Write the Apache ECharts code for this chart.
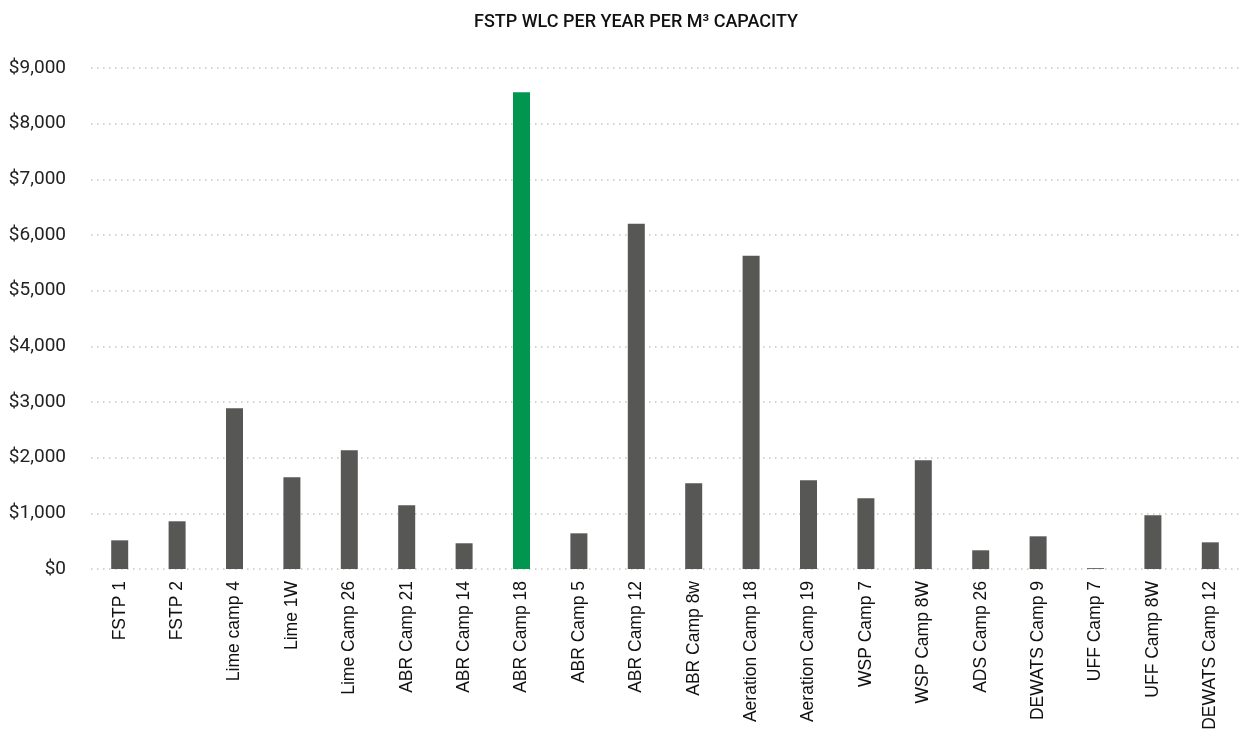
<!DOCTYPE html>
<html>
<head>
<meta charset="utf-8">
<script src="https://cdn.jsdelivr.net/npm/echarts@6/dist/echarts.min.js"></script>
<style>
  html, body { margin: 0; padding: 0; background: #ffffff; }
  #chart { width: 1239px; height: 735px; }
</style>
</head>
<body>
<div id="chart"></div>
<script>
// Whole-life cost per year per m³ of capacity for each treatment plant
const plants = [
  'FSTP 1', 'FSTP 2', 'Lime camp 4', 'Lime 1W', 'Lime Camp 26',
  'ABR Camp 21', 'ABR Camp 14', 'ABR Camp 18', 'ABR Camp 5', 'ABR Camp 12',
  'ABR Camp 8w', 'Aeration Camp 18', 'Aeration Camp 19', 'WSP Camp 7', 'WSP Camp 8W',
  'ADS Camp 26', 'DEWATS Camp 9', 'UFF Camp 7', 'UFF Camp 8W', 'DEWATS Camp 12'
];
const wlcPerM3 = [
  515, 857, 2887, 1647, 2132,
  1144, 462, 8563, 641, 6203,
  1539, 5628, 1593, 1270, 1953,
  336, 587, 15, 964, 479
];
// Plant picked out in green
const highlighted = 'ABR Camp 18';
const yTicks = { min: 0, max: 9000, interval: 1000 };

const barGrey = '#575756';
const barGreen = '#00964f';

const chart = echarts.init(document.getElementById('chart'), null, { renderer: 'canvas' });

chart.setOption({
  animation: false,
  backgroundColor: '#ffffff',
  title: {
    text: 'FSTP WLC PER YEAR PER M³ CAPACITY',
    left: 631,
    textAlign: 'center',
    top: 8,
    textStyle: {
      fontFamily: 'Roboto',
      fontWeight: 500,
      fontSize: 18,
      color: '#111111'
    }
  },
  grid: {
    left: 91,
    right: -2,
    top: 68,
    bottom: 166,
    containLabel: false
  },
  xAxis: {
    type: 'category',
    data: plants,
    axisLine: { show: false },
    axisTick: { show: false },
    axisLabel: {
      rotate: 90,
      interval: 0,
      margin: 12,
      fontFamily: 'Liberation Sans',
      fontSize: 17.5,
      color: '#111111'
    }
  },
  yAxis: {
    type: 'value',
    min: yTicks.min,
    max: yTicks.max,
    interval: yTicks.interval,
    axisLine: { show: false },
    axisTick: { show: false },
    axisLabel: {
      margin: 25,
      fontFamily: 'Roboto',
      fontSize: 19,
      color: '#222222',
      formatter: v => '$' + v.toLocaleString('en-US')
    },
    splitLine: {
      show: true,
      lineStyle: { color: '#c4c4c4', width: 1.5, type: [1.5, 4.5] }
    }
  },
  series: [{
    type: 'bar',
    barWidth: 17,
    data: wlcPerM3.map((v, i) => ({
      value: v,
      itemStyle: { color: plants[i] === highlighted ? barGreen : barGrey }
    }))
  }]
});
</script>
</body>
</html>
